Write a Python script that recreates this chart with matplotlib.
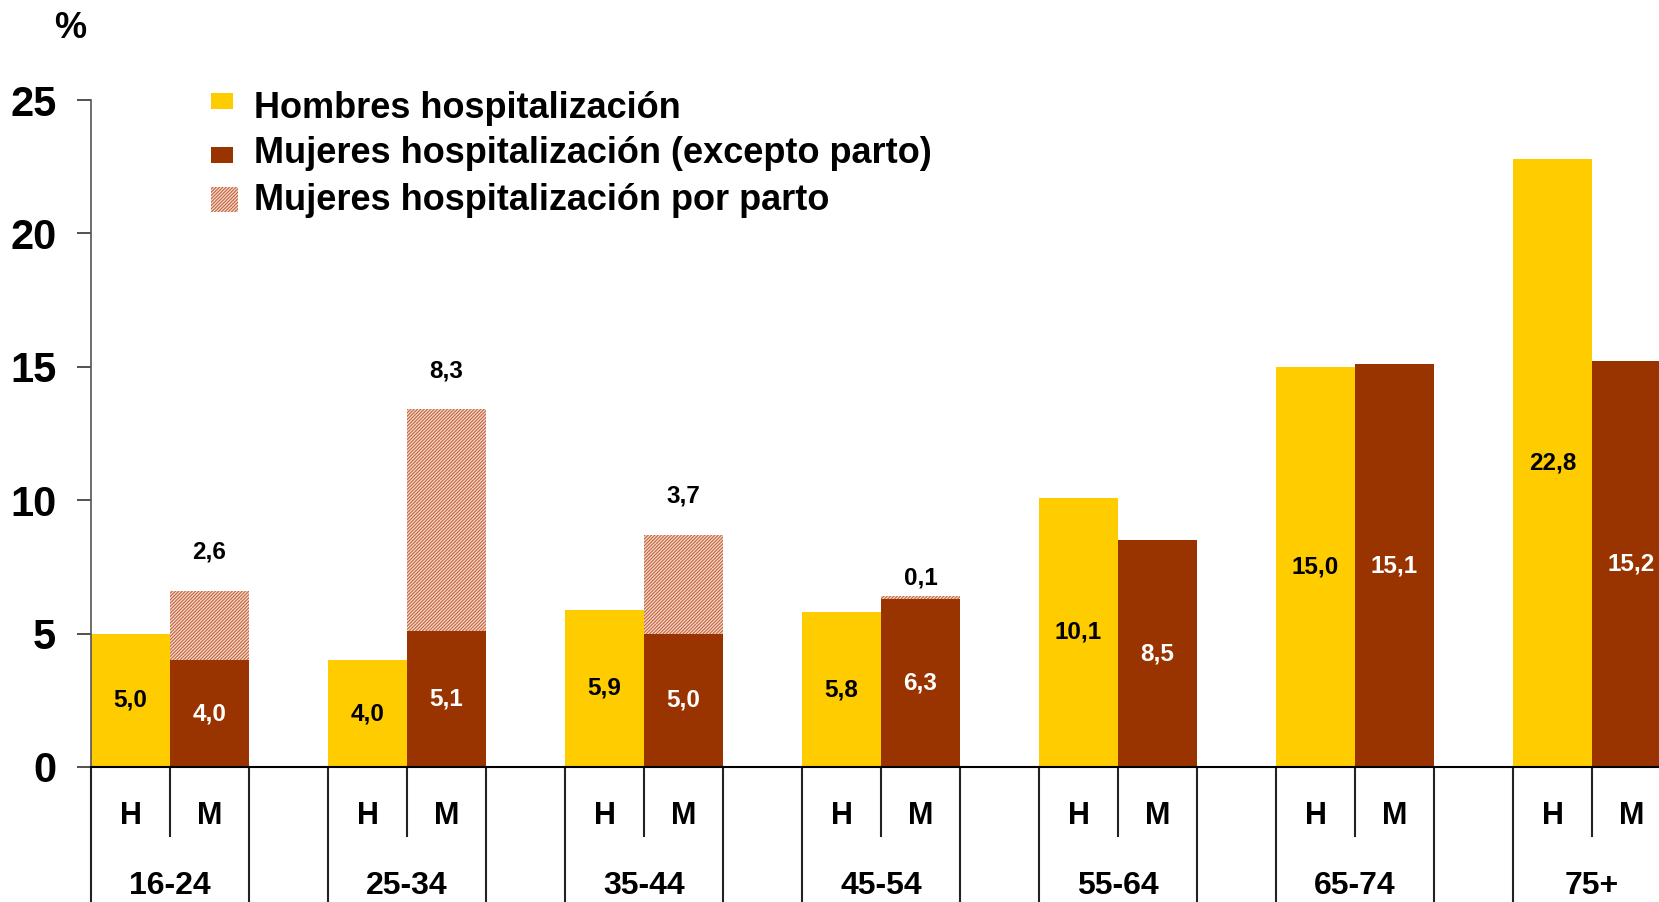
import matplotlib
matplotlib.use("Agg")
import matplotlib.pyplot as plt
from matplotlib.patches import Rectangle
from matplotlib.transforms import blended_transform_factory

# ---- data ------------------------------------------------------------------
groups = ["16-24", "25-34", "35-44", "45-54", "55-64", "65-74", "75+"]
hombres = [5.0, 4.0, 5.9, 5.8, 10.1, 15.0, 22.8]
mujeres_excepto = [4.0, 5.1, 5.0, 6.3, 8.5, 15.1, 15.2]
mujeres_parto = [2.6, 8.3, 3.7, 0.1, 0.0, 0.0, 0.0]
legend_labels = ["Hombres hospitalización",
                 "Mujeres hospitalización (excepto parto)",
                 "Mujeres hospitalización por parto"]

YELLOW = "#FFCC00"
RED = "#993300"
HATCH = "#C86A44"
HATCH_BG = "#F6E2D8"
HATCH_PAT = "//////////"
W, H = 1659, 902

plt.rcParams.update({"font.family": ["Liberation Sans", "DejaVu Sans"],
                     "font.weight": "bold", "hatch.linewidth": 0.9})

fig = plt.figure(figsize=(W / 100, H / 100), dpi=100)
ax = fig.add_axes([91 / W, (H - 767) / H, 1 - 91 / W, 667 / H])

bw = 1 / 3
xh = [i + bw / 2 for i in range(len(groups))]
xm = [i + 1.5 * bw for i in range(len(groups))]

ax.bar(xh, hombres, width=bw, color=YELLOW, lw=0, zorder=2)
ax.bar(xm, mujeres_excepto, width=bw, color=RED, lw=0, zorder=2)
ax.bar(xm, mujeres_parto, width=bw, bottom=mujeres_excepto, facecolor=HATCH_BG,
       edgecolor=HATCH, hatch=HATCH_PAT, lw=0, zorder=2)

ax.set_xlim(0, 6.616)
ax.set_ylim(0, 25)
ax.set_xticks([])
ax.set_yticks([0, 5, 10, 15, 20, 25])
ax.tick_params(axis="y", length=10, width=1.2, pad=15, labelsize=30,
               color="#333333")
for lab in ax.get_yticklabels():
    lab.set_fontweight("bold")
ax.spines[["top", "right"]].set_visible(False)
ax.spines["left"].set_color("#555555")
ax.spines["left"].set_linewidth(1.2)
ax.spines["bottom"].set_linewidth(1.5)


def fmt(v):
    return f"{v:.1f}".replace(".", ",")


# value labels
for x, v in zip(xh, hombres):
    ax.text(x, v / 2, fmt(v), ha="center", va="center",
            fontsize=17.5, fontweight="bold", color="black", zorder=3)
for x, v in zip(xm, mujeres_excepto):
    ax.text(x, v / 2, fmt(v), ha="center", va="center",
            fontsize=17.5, fontweight="bold", color="white", zorder=3)
for x, b, v in zip(xm, mujeres_excepto, mujeres_parto):
    if v <= 0:
        continue
    off = 28 if v >= 0.5 else 13
    ax.annotate(fmt(v), (x, b + v), xytext=(0, off),
                textcoords="offset points", ha="center", va="center",
                fontsize=17.5, fontweight="bold", color="black")

# category table under the axis
tr = blended_transform_factory(ax.transData, ax.transAxes)
for i, g in enumerate(groups):
    for x, y0 in ((i, -0.25), (i + bw, -0.1034), (i + 2 * bw, -0.25)):
        ax.plot([x, x], [0, y0], transform=tr, color="#222222", lw=1.5,
                clip_on=False)
    ax.text(i + bw / 2, -0.0735, "H", transform=tr, ha="center", va="center",
            fontsize=22, fontweight="bold")
    ax.text(i + 1.5 * bw, -0.0735, "M", transform=tr, ha="center", va="center",
            fontsize=22, fontweight="bold")
    ax.text(i + bw, -0.178, g, transform=tr, ha="center", va="center",
            fontsize=23, fontweight="bold")

fig.text(70 / W, 1 - 28 / H, "%", ha="center", va="center", fontsize=26,
         fontweight="bold")

# legend
handles = [dict(color=YELLOW, box=(211, 93, 22, 16)),
           dict(color=RED, box=(211, 147, 22, 16)),
           dict(color=None, box=(211, 187, 27, 25))]
baselines = [118, 163, 210]
for hd, lab, base in zip(handles, legend_labels, baselines):
    x0, y0, w, h = hd["box"]
    rect_kw = dict(transform=fig.transFigure, lw=0)
    if hd["color"]:
        r = Rectangle((x0 / W, 1 - (y0 + h) / H), w / W, h / H,
                      facecolor=hd["color"], **rect_kw)
    else:
        r = Rectangle((x0 / W, 1 - (y0 + h) / H), w / W, h / H,
                      facecolor=HATCH_BG, edgecolor=HATCH, hatch=HATCH_PAT,
                      **rect_kw)
    fig.add_artist(r)
    fig.text(254 / W, 1 - base / H, lab, ha="left", va="baseline",
             fontsize=26, fontweight="bold")

fig.savefig("out.png", dpi=100)
